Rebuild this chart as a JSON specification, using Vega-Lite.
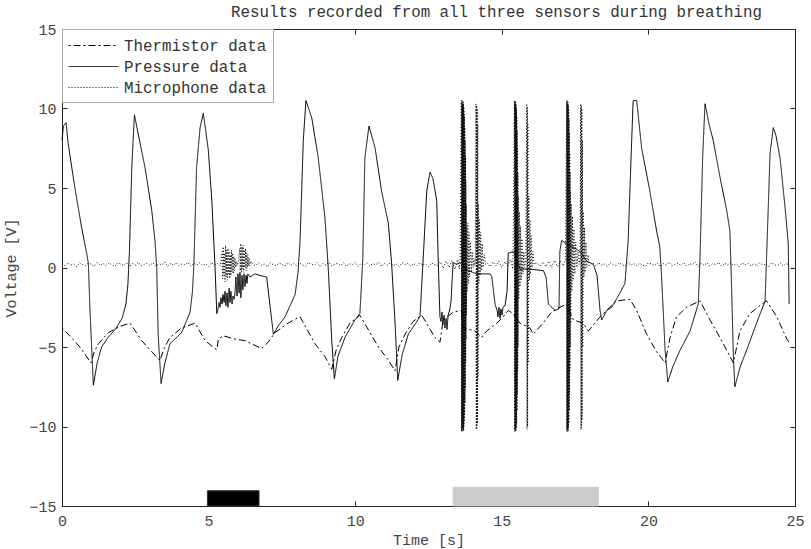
{
"$schema":"https://vega.github.io/schema/vega-lite/v6.json",
"width":733,"height":477,
"autosize":{"type":"none"},
"padding":{"left":62,"top":29,"right":16,"bottom":43},
"config":{"view":{"stroke":"#222","strokeWidth":1},"font":"Liberation Mono","axis":{"grid":false,"labelFlush":false}},
"title":{"text":"Results recorded from all three sensors during breathing","font":"Liberation Mono","fontSize":15.8,"fontWeight":"normal","color":"#333","anchor":"middle","dx":68,"offset":1},
"resolve":{"axis":{"x":"independent","y":"independent"}},
"layer":[
{"data":{"values":[
{"period":"A","t0":4.96,"t1":6.72,"v0":-15,"v1":-14.04},
{"period":"B","t0":13.34,"t1":18.29,"v0":-15,"v1":-13.82}
]},
"mark":{"type":"rect","strokeWidth":1},
"encoding":{
"x":{"field":"t0","type":"quantitative","scale":{"domain":[0,25],"nice":false},"axis":{"orient":"top","values":[0,5,10,15,20,25],"labels":false,"title":null,"domain":false,"grid":false,"tickSize":-5,"tickColor":"#222"}},
"x2":{"field":"t1"},
"y":{"field":"v0","type":"quantitative","scale":{"domain":[-15,15],"nice":false},"axis":{"orient":"right","values":[-15,-10,-5,0,5,10,15],"labels":false,"title":null,"domain":false,"grid":false,"tickSize":-5,"tickColor":"#222"}},
"y2":{"field":"v1"},
"fill":{"field":"period","type":"nominal","scale":{"domain":["A","B"],"range":["#000000","#cccccc"]},"legend":null},
"stroke":{"field":"period","type":"nominal","scale":{"domain":["A","B"],"range":["#333333","#cccccc"]},"legend":null}
}},
{"data":{"values":[
{"s":"T","t":0,"v":-3.8},{"s":"T","t":0.27,"v":-4.3},{"s":"T","t":0.61,"v":-5.0},{"s":"T","t":0.99,"v":-6.0},{"s":"T","t":1.1,"v":-5.3},{"s":"T","t":1.24,"v":-4.8},{"s":"T","t":1.58,"v":-4.1},{"s":"T","t":1.98,"v":-3.7},{"s":"T","t":2.32,"v":-3.5},{"s":"T","t":2.72,"v":-4.6},{"s":"T","t":3.06,"v":-5.3},{"s":"T","t":3.34,"v":-5.85},{"s":"T","t":3.48,"v":-5.1},{"s":"T","t":3.68,"v":-4.4},{"s":"T","t":4.08,"v":-3.8},{"s":"T","t":4.54,"v":-3.5},{"s":"T","t":4.88,"v":-4.6},{"s":"T","t":5.22,"v":-5.1},{"s":"T","t":5.29,"v":-5.15},{"s":"T","t":5.33,"v":-4.5},{"s":"T","t":5.5,"v":-4.3},{"s":"T","t":5.9,"v":-4.5},{"s":"T","t":6.24,"v":-4.6},{"s":"T","t":6.81,"v":-5.1},{"s":"T","t":7.03,"v":-4.7},{"s":"T","t":7.26,"v":-4.1},{"s":"T","t":7.71,"v":-3.5},{"s":"T","t":8.12,"v":-3.1},{"s":"T","t":8.63,"v":-4.8},{"s":"T","t":8.97,"v":-5.6},{"s":"T","t":9.2,"v":-6.4},{"s":"T","t":9.35,"v":-5.2},{"s":"T","t":9.54,"v":-4.4},{"s":"T","t":9.82,"v":-3.5},{"s":"T","t":10.16,"v":-3.0},{"s":"T","t":10.79,"v":-5.0},{"s":"T","t":11.12,"v":-5.8},{"s":"T","t":11.36,"v":-6.5},{"s":"T","t":11.49,"v":-5.0},{"s":"T","t":11.7,"v":-4.2},{"s":"T","t":11.97,"v":-3.4},{"s":"T","t":12.27,"v":-3.0},{"s":"T","t":12.72,"v":-4.4},{"s":"T","t":12.89,"v":-4.7},{"s":"T","t":13.0,"v":-3.3},{"s":"T","t":13.35,"v":-2.8},{"s":"T","t":13.63,"v":-2.7},{"s":"T","t":13.69,"v":-3.8},{"s":"T","t":14.09,"v":-4.0},{"s":"T","t":14.31,"v":-4.4},{"s":"T","t":14.48,"v":-4.0},{"s":"T","t":14.83,"v":-3.5},{"s":"T","t":15.05,"v":-3.1},{"s":"T","t":15.22,"v":-2.7},{"s":"T","t":15.38,"v":-2.9},{"s":"T","t":15.62,"v":-3.5},{"s":"T","t":15.96,"v":-3.8},{"s":"T","t":16.07,"v":-4.2},{"s":"T","t":16.36,"v":-3.6},{"s":"T","t":16.7,"v":-2.8},{"s":"T","t":16.98,"v":-2.5},{"s":"T","t":17.21,"v":-2.3},{"s":"T","t":17.44,"v":-3.3},{"s":"T","t":17.78,"v":-3.5},{"s":"T","t":17.95,"v":-4.0},{"s":"T","t":18.35,"v":-3.1},{"s":"T","t":18.92,"v":-2.1},{"s":"T","t":19.37,"v":-2.0},{"s":"T","t":19.6,"v":-2.7},{"s":"T","t":19.94,"v":-4.2},{"s":"T","t":20.28,"v":-5.3},{"s":"T","t":20.57,"v":-6.0},{"s":"T","t":20.74,"v":-4.4},{"s":"T","t":20.96,"v":-3.1},{"s":"T","t":21.3,"v":-2.5},{"s":"T","t":21.76,"v":-2.1},{"s":"T","t":22.1,"v":-3.3},{"s":"T","t":22.44,"v":-4.4},{"s":"T","t":22.9,"v":-6.0},{"s":"T","t":23.12,"v":-4.0},{"s":"T","t":23.46,"v":-2.9},{"s":"T","t":23.8,"v":-2.4},{"s":"T","t":24.03,"v":-2.1},{"s":"T","t":24.38,"v":-3.1},{"s":"T","t":24.72,"v":-4.5},{"s":"T","t":24.83,"v":-4.8},
{"s":"P","t":0,"v":8.0},{"s":"P","t":0.05,"v":8.9},{"s":"P","t":0.14,"v":9.1},{"s":"P","t":0.21,"v":7.8},{"s":"P","t":0.44,"v":5.0},{"s":"P","t":0.67,"v":2.5},{"s":"P","t":0.84,"v":0.9},{"s":"P","t":0.9,"v":0.25},{"s":"P","t":0.95,"v":-2.5},{"s":"P","t":1.07,"v":-7.4},{"s":"P","t":1.2,"v":-6.0},{"s":"P","t":1.35,"v":-5.0},{"s":"P","t":1.57,"v":-4.4},{"s":"P","t":1.81,"v":-3.9},{"s":"P","t":2.05,"v":-3.2},{"s":"P","t":2.18,"v":-2.3},{"s":"P","t":2.25,"v":-1.0},{"s":"P","t":2.3,"v":1.0},{"s":"P","t":2.38,"v":6.3},{"s":"P","t":2.47,"v":9.6},{"s":"P","t":2.6,"v":8.4},{"s":"P","t":2.83,"v":6.3},{"s":"P","t":3.06,"v":3.6},{"s":"P","t":3.17,"v":1.7},{"s":"P","t":3.23,"v":0},{"s":"P","t":3.28,"v":-4.2},{"s":"P","t":3.38,"v":-7.3},{"s":"P","t":3.51,"v":-6.0},{"s":"P","t":3.68,"v":-4.8},{"s":"P","t":4.08,"v":-4.1},{"s":"P","t":4.37,"v":-2.8},{"s":"P","t":4.45,"v":-1.5},{"s":"P","t":4.5,"v":0.3},{"s":"P","t":4.59,"v":6.3},{"s":"P","t":4.71,"v":8.8},{"s":"P","t":4.82,"v":9.7},{"s":"P","t":4.99,"v":7.4},{"s":"P","t":5.11,"v":4.2},{"s":"P","t":5.22,"v":0},{"s":"P","t":5.28,"v":-2.9},
{"s":"P","t":5.32,"v":-2.6},{"s":"P","t":5.36,"v":-2.2},{"s":"P","t":5.39,"v":-2.5},{"s":"P","t":5.42,"v":-1.9},{"s":"P","t":5.46,"v":-2.3},{"s":"P","t":5.49,"v":-1.7},{"s":"P","t":5.53,"v":-2.2},{"s":"P","t":5.56,"v":-1.5},{"s":"P","t":5.59,"v":-2.4},{"s":"P","t":5.63,"v":-1.6},{"s":"P","t":5.66,"v":-2.5},{"s":"P","t":5.7,"v":-1.3},{"s":"P","t":5.73,"v":-2.2},{"s":"P","t":5.76,"v":-1.5},{"s":"P","t":5.8,"v":-2.3},{"s":"P","t":5.83,"v":-1.8},{"s":"P","t":5.87,"v":-2.0},{"s":"P","t":5.9,"v":-1.6},{"s":"P","t":5.93,"v":-0.6},{"s":"P","t":5.97,"v":-1.8},{"s":"P","t":6.0,"v":-0.4},{"s":"P","t":6.04,"v":-1.6},{"s":"P","t":6.07,"v":-0.3},{"s":"P","t":6.1,"v":-1.9},{"s":"P","t":6.14,"v":-0.5},{"s":"P","t":6.17,"v":-1.4},{"s":"P","t":6.21,"v":-0.4},{"s":"P","t":6.24,"v":-1.2},{"s":"P","t":6.28,"v":-0.5},{"s":"P","t":6.31,"v":-1.0},{"s":"P","t":6.34,"v":-0.4},{"s":"P","t":6.41,"v":-0.6},{"s":"P","t":6.58,"v":-0.4},{"s":"P","t":6.75,"v":-0.5},{"s":"P","t":6.98,"v":-0.6},{"s":"P","t":7.03,"v":-1.4},{"s":"P","t":7.21,"v":-4.2},
{"s":"P","t":7.4,"v":-3.6},{"s":"P","t":7.61,"v":-3.1},{"s":"P","t":7.95,"v":-1.7},{"s":"P","t":8.05,"v":-0.3},{"s":"P","t":8.12,"v":1.7},{"s":"P","t":8.23,"v":8.0},{"s":"P","t":8.32,"v":10.5},{"s":"P","t":8.52,"v":9.4},{"s":"P","t":8.74,"v":6.9},{"s":"P","t":8.97,"v":3.1},{"s":"P","t":9.08,"v":0},{"s":"P","t":9.2,"v":-4.6},{"s":"P","t":9.29,"v":-7.0},{"s":"P","t":9.41,"v":-5.6},{"s":"P","t":9.65,"v":-4.4},{"s":"P","t":9.99,"v":-3.3},{"s":"P","t":10.16,"v":-2.9},{"s":"P","t":10.26,"v":0.6},{"s":"P","t":10.33,"v":6.9},{"s":"P","t":10.47,"v":8.9},{"s":"P","t":10.68,"v":7.5},{"s":"P","t":10.9,"v":4.8},{"s":"P","t":11.13,"v":2.8},{"s":"P","t":11.24,"v":0.3},{"s":"P","t":11.36,"v":-3.5},{"s":"P","t":11.45,"v":-7.1},{"s":"P","t":11.6,"v":-5.5},{"s":"P","t":11.81,"v":-4.2},{"s":"P","t":12.21,"v":-3.1},{"s":"P","t":12.32,"v":0.6},{"s":"P","t":12.44,"v":4.8},{"s":"P","t":12.55,"v":6.0},{"s":"P","t":12.65,"v":5.6},{"s":"P","t":12.78,"v":4.2},{"s":"P","t":12.83,"v":0.6},{"s":"P","t":12.89,"v":-3.1},
{"s":"P","t":12.93,"v":-3.4},{"s":"P","t":12.96,"v":-2.8},{"s":"P","t":12.99,"v":-3.6},{"s":"P","t":13.03,"v":-3.0},{"s":"P","t":13.06,"v":-3.8},{"s":"P","t":13.1,"v":-3.2},{"s":"P","t":13.13,"v":-3.9},{"s":"P","t":13.17,"v":-3.0},{"s":"P","t":13.23,"v":-2.6},{"s":"P","t":13.27,"v":-2.1},{"s":"P","t":13.3,"v":-1.0},{"s":"P","t":13.34,"v":0.3},{"s":"P","t":13.46,"v":0.2},{"s":"P","t":13.57,"v":0.3},{"s":"P","t":13.86,"v":-0.2},{"s":"P","t":14.14,"v":-0.4},{"s":"P","t":14.6,"v":-0.4},{"s":"P","t":14.66,"v":-0.6},{"s":"P","t":14.77,"v":-2.3},{"s":"P","t":14.84,"v":-2.7},{"s":"P","t":14.87,"v":-3.1},{"s":"P","t":14.9,"v":-2.5},{"s":"P","t":14.94,"v":-3.2},{"s":"P","t":14.97,"v":-2.6},{"s":"P","t":15.01,"v":-3.0},{"s":"P","t":15.04,"v":-2.5},{"s":"P","t":15.11,"v":-2.4},{"s":"P","t":15.18,"v":-1.5},{"s":"P","t":15.22,"v":0.9},{"s":"P","t":15.39,"v":1.0},{"s":"P","t":15.45,"v":0.8},{"s":"P","t":15.62,"v":-0.1},{"s":"P","t":15.96,"v":-0.1},{"s":"P","t":16.42,"v":-0.2},{"s":"P","t":16.51,"v":-0.6},{"s":"P","t":16.59,"v":-2.3},{"s":"P","t":16.7,"v":-2.5},{"s":"P","t":16.82,"v":-2.7},{"s":"P","t":16.95,"v":-2.6},{"s":"P","t":16.98,"v":1.0},{"s":"P","t":17.04,"v":1.7},{"s":"P","t":17.21,"v":1.5},{"s":"P","t":17.5,"v":1.2},{"s":"P","t":17.67,"v":1.0},{"s":"P","t":17.9,"v":0.4},{"s":"P","t":18.12,"v":0.2},{"s":"P","t":18.25,"v":-0.5},{"s":"P","t":18.35,"v":-2.7},{"s":"P","t":18.41,"v":-3.3},{"s":"P","t":18.58,"v":-2.7},{"s":"P","t":18.75,"v":-2.5},{"s":"P","t":19.03,"v":-1.6},{"s":"P","t":19.2,"v":-1.0},{"s":"P","t":19.31,"v":1.7},{"s":"P","t":19.43,"v":8.0},{"s":"P","t":19.48,"v":10.5},{"s":"P","t":19.6,"v":10.5},{"s":"P","t":19.77,"v":7.5},{"s":"P","t":20.05,"v":4.8},{"s":"P","t":20.28,"v":2.3},{"s":"P","t":20.39,"v":1.3},{"s":"P","t":20.45,"v":-0.6},{"s":"P","t":20.57,"v":-5.2},{"s":"P","t":20.66,"v":-7.2},{"s":"P","t":20.84,"v":-6.2},{"s":"P","t":21.08,"v":-5.2},{"s":"P","t":21.42,"v":-4.0},{"s":"P","t":21.7,"v":-2.3},{"s":"P","t":21.76,"v":0.6},{"s":"P","t":21.85,"v":6.9},{"s":"P","t":21.93,"v":10.3},{"s":"P","t":22.07,"v":9.0},{"s":"P","t":22.21,"v":8.0},{"s":"P","t":22.44,"v":5.7},{"s":"P","t":22.67,"v":3.6},{"s":"P","t":22.78,"v":2.3},{"s":"P","t":22.84,"v":-1.4},{"s":"P","t":22.9,"v":-5.7},{"s":"P","t":22.95,"v":-7.5},{"s":"P","t":23.12,"v":-6.3},{"s":"P","t":23.35,"v":-5.2},{"s":"P","t":23.69,"v":-3.5},{"s":"P","t":23.98,"v":-2.1},{"s":"P","t":24.03,"v":0.6},{"s":"P","t":24.15,"v":7.2},{"s":"P","t":24.26,"v":8.8},{"s":"P","t":24.35,"v":8.3},{"s":"P","t":24.49,"v":6.9},{"s":"P","t":24.66,"v":3.8},{"s":"P","t":24.77,"v":1.5},{"s":"P","t":24.8,"v":-2.3},
{"s":"M","t":0.0,"v":0.25},{"s":"M","t":0.1,"v":0.1},{"s":"M","t":0.2,"v":0.3},{"s":"M","t":0.3,"v":0.15},{"s":"M","t":0.4,"v":0.22},{"s":"M","t":0.5,"v":0.05},{"s":"M","t":0.6,"v":0.3},{"s":"M","t":0.7,"v":0.18},{"s":"M","t":0.8,"v":0.12},{"s":"M","t":0.9,"v":0.28},
{"s":"M","t":1.0,"v":0.2},{"s":"M","t":1.1,"v":0.08},{"s":"M","t":1.2,"v":0.32},{"s":"M","t":1.3,"v":0.14},{"s":"M","t":1.4,"v":0.26},{"s":"M","t":1.5,"v":0.1},{"s":"M","t":1.6,"v":0.28},{"s":"M","t":1.7,"v":0.16},{"s":"M","t":1.8,"v":0.06},{"s":"M","t":1.9,"v":0.3},
{"s":"M","t":2.0,"v":0.22},{"s":"M","t":2.1,"v":0.12},{"s":"M","t":2.2,"v":0.3},{"s":"M","t":2.3,"v":0.05},{"s":"M","t":2.4,"v":0.25},{"s":"M","t":2.5,"v":0.15},{"s":"M","t":2.6,"v":0.33},{"s":"M","t":2.7,"v":0.1},{"s":"M","t":2.8,"v":0.2},{"s":"M","t":2.9,"v":0.27},
{"s":"M","t":3.0,"v":0.12},{"s":"M","t":3.1,"v":0.3},{"s":"M","t":3.2,"v":0.08},{"s":"M","t":3.3,"v":0.24},{"s":"M","t":3.4,"v":0.17},{"s":"M","t":3.5,"v":0.35},{"s":"M","t":3.6,"v":0.06},{"s":"M","t":3.7,"v":0.26},{"s":"M","t":3.8,"v":0.14},{"s":"M","t":3.9,"v":0.3},
{"s":"M","t":4.0,"v":0.1},{"s":"M","t":4.1,"v":0.24},{"s":"M","t":4.2,"v":0.18},{"s":"M","t":4.3,"v":0.32},{"s":"M","t":4.4,"v":0.07},{"s":"M","t":4.5,"v":0.27},{"s":"M","t":4.6,"v":0.15},{"s":"M","t":4.7,"v":0.3},{"s":"M","t":4.8,"v":0.12},{"s":"M","t":4.9,"v":0.22},
{"s":"M","t":5.0,"v":0.05},{"s":"M","t":5.1,"v":0.3},{"s":"M","t":5.2,"v":0.16},{"s":"M","t":5.3,"v":0.26},{"s":"M","t":5.4,"v":0.1},
{"s":"M","t":5.46,"v":1.0},{"s":"M","t":5.48,"v":-0.7},{"s":"M","t":5.5,"v":1.3},{"s":"M","t":5.52,"v":-0.5},{"s":"M","t":5.54,"v":0.9},{"s":"M","t":5.56,"v":-0.9},{"s":"M","t":5.58,"v":1.4},{"s":"M","t":5.6,"v":-0.6},{"s":"M","t":5.62,"v":1.1},{"s":"M","t":5.64,"v":-0.8},{"s":"M","t":5.66,"v":1.2},{"s":"M","t":5.68,"v":-0.4},{"s":"M","t":5.7,"v":1.0},{"s":"M","t":5.72,"v":-0.7},{"s":"M","t":5.74,"v":0.8},{"s":"M","t":5.76,"v":-0.5},{"s":"M","t":5.78,"v":1.1},{"s":"M","t":5.8,"v":-0.3},{"s":"M","t":5.82,"v":0.9},{"s":"M","t":5.84,"v":-0.4},{"s":"M","t":5.86,"v":0.7},{"s":"M","t":5.88,"v":-0.2},{"s":"M","t":5.9,"v":0.6},{"s":"M","t":5.92,"v":0.0},{"s":"M","t":5.94,"v":0.4},{"s":"M","t":5.96,"v":0.1},{"s":"M","t":5.98,"v":0.3},{"s":"M","t":6.0,"v":0.2},
{"s":"M","t":6.06,"v":1.2},{"s":"M","t":6.08,"v":-0.2},{"s":"M","t":6.1,"v":1.5},{"s":"M","t":6.12,"v":-0.3},{"s":"M","t":6.14,"v":1.3},{"s":"M","t":6.16,"v":-0.1},{"s":"M","t":6.18,"v":1.4},{"s":"M","t":6.2,"v":-0.3},{"s":"M","t":6.22,"v":1.1},{"s":"M","t":6.24,"v":0.0},{"s":"M","t":6.26,"v":1.2},{"s":"M","t":6.28,"v":-0.2},{"s":"M","t":6.3,"v":0.9},{"s":"M","t":6.32,"v":0.0},{"s":"M","t":6.34,"v":0.8},{"s":"M","t":6.36,"v":0.1},{"s":"M","t":6.38,"v":0.6},{"s":"M","t":6.4,"v":0.1},{"s":"M","t":6.44,"v":0.4},{"s":"M","t":6.48,"v":0.2},
{"s":"M","t":6.5,"v":0.25},{"s":"M","t":6.6,"v":0.1},{"s":"M","t":6.7,"v":0.3},{"s":"M","t":6.8,"v":0.15},{"s":"M","t":6.9,"v":0.22},{"s":"M","t":7.0,"v":0.05},{"s":"M","t":7.1,"v":0.3},{"s":"M","t":7.2,"v":0.18},{"s":"M","t":7.3,"v":0.12},{"s":"M","t":7.4,"v":0.28},
{"s":"M","t":7.5,"v":0.2},{"s":"M","t":7.6,"v":0.08},{"s":"M","t":7.7,"v":0.32},{"s":"M","t":7.8,"v":0.14},{"s":"M","t":7.9,"v":0.26},{"s":"M","t":8.0,"v":0.1},{"s":"M","t":8.1,"v":0.28},{"s":"M","t":8.2,"v":0.16},{"s":"M","t":8.3,"v":0.06},{"s":"M","t":8.4,"v":0.3},
{"s":"M","t":8.5,"v":0.22},{"s":"M","t":8.6,"v":0.12},{"s":"M","t":8.7,"v":0.3},{"s":"M","t":8.8,"v":0.05},{"s":"M","t":8.9,"v":0.25},{"s":"M","t":9.0,"v":0.15},{"s":"M","t":9.1,"v":0.33},{"s":"M","t":9.2,"v":0.1},{"s":"M","t":9.3,"v":0.2},{"s":"M","t":9.4,"v":0.27},
{"s":"M","t":9.5,"v":0.12},{"s":"M","t":9.6,"v":0.3},{"s":"M","t":9.7,"v":0.08},{"s":"M","t":9.8,"v":0.24},{"s":"M","t":9.9,"v":0.17},{"s":"M","t":10.0,"v":0.35},{"s":"M","t":10.1,"v":0.06},{"s":"M","t":10.2,"v":0.26},{"s":"M","t":10.3,"v":0.14},{"s":"M","t":10.4,"v":0.3},
{"s":"M","t":10.5,"v":0.1},{"s":"M","t":10.6,"v":0.24},{"s":"M","t":10.7,"v":0.18},{"s":"M","t":10.8,"v":0.32},{"s":"M","t":10.9,"v":0.07},{"s":"M","t":11.0,"v":0.27},{"s":"M","t":11.1,"v":0.15},{"s":"M","t":11.2,"v":0.3},{"s":"M","t":11.3,"v":0.12},{"s":"M","t":11.4,"v":0.22},
{"s":"M","t":11.5,"v":0.05},{"s":"M","t":11.6,"v":0.3},{"s":"M","t":11.7,"v":0.16},{"s":"M","t":11.8,"v":0.26},{"s":"M","t":11.9,"v":0.1},{"s":"M","t":12.0,"v":0.25},{"s":"M","t":12.1,"v":0.1},{"s":"M","t":12.2,"v":0.3},{"s":"M","t":12.3,"v":0.15},{"s":"M","t":12.4,"v":0.22},
{"s":"M","t":12.5,"v":0.05},{"s":"M","t":12.6,"v":0.3},{"s":"M","t":12.7,"v":0.18},{"s":"M","t":12.8,"v":0.12},{"s":"M","t":12.9,"v":0.35},{"s":"M","t":13.0,"v":-0.05},{"s":"M","t":13.1,"v":0.4},{"s":"M","t":13.2,"v":0.0},{"s":"M","t":13.3,"v":0.45},{"s":"M","t":13.4,"v":-0.1},{"s":"M","t":13.5,"v":0.5},
{"s":"M","t":13.55,"v":-0.1},{"s":"M","t":13.58,"v":0.6},
{"s":"M","t":13.62,"v":10.5},{"s":"M","t":13.626,"v":-10.3},{"s":"M","t":13.632,"v":10.4},{"s":"M","t":13.638,"v":-10.2},{"s":"M","t":13.644,"v":10.5},{"s":"M","t":13.65,"v":-10.3},{"s":"M","t":13.656,"v":10.3},{"s":"M","t":13.662,"v":-10.1},{"s":"M","t":13.668,"v":10.5},{"s":"M","t":13.674,"v":-10.3},{"s":"M","t":13.68,"v":10.2},{"s":"M","t":13.686,"v":-10.2},{"s":"M","t":13.692,"v":10.4},{"s":"M","t":13.698,"v":-10.3},{"s":"M","t":13.704,"v":10.1},{"s":"M","t":13.71,"v":-10.0},{"s":"M","t":13.716,"v":9.8},{"s":"M","t":13.722,"v":-9.6},{"s":"M","t":13.728,"v":9.5},{"s":"M","t":13.734,"v":-9.2},{"s":"M","t":13.74,"v":8.8},{"s":"M","t":13.746,"v":-8.5},{"s":"M","t":13.752,"v":8.0},{"s":"M","t":13.758,"v":-7.6},{"s":"M","t":13.764,"v":7.0},{"s":"M","t":13.77,"v":-6.0},{"s":"M","t":13.776,"v":5.5},{"s":"M","t":13.782,"v":-4.5},{"s":"M","t":13.788,"v":4.0},{"s":"M","t":13.794,"v":-3.0},{"s":"M","t":13.8,"v":2.5},
{"s":"M","t":13.82,"v":-1.5},{"s":"M","t":13.84,"v":2.8},{"s":"M","t":13.86,"v":-1.0},{"s":"M","t":13.88,"v":2.2},{"s":"M","t":13.9,"v":-0.6},{"s":"M","t":13.93,"v":1.6},{"s":"M","t":13.96,"v":-0.3},{"s":"M","t":13.99,"v":1.0},{"s":"M","t":14.02,"v":0.0},{"s":"M","t":14.05,"v":0.6},{"s":"M","t":14.08,"v":0.1},{"s":"M","t":14.1,"v":0.4},
{"s":"M","t":14.12,"v":10.3},{"s":"M","t":14.13,"v":-10.2},{"s":"M","t":14.14,"v":10.2},{"s":"M","t":14.15,"v":-10.1},{"s":"M","t":14.16,"v":10.0},{"s":"M","t":14.17,"v":-9.8},{"s":"M","t":14.18,"v":9.0},{"s":"M","t":14.19,"v":-7.0},{"s":"M","t":14.2,"v":4.0},
{"s":"M","t":14.22,"v":-1.0},{"s":"M","t":14.24,"v":3.0},{"s":"M","t":14.26,"v":-0.5},{"s":"M","t":14.28,"v":2.2},{"s":"M","t":14.3,"v":-0.2},{"s":"M","t":14.33,"v":1.5},{"s":"M","t":14.36,"v":0.0},{"s":"M","t":14.4,"v":0.8},{"s":"M","t":14.45,"v":0.2},
{"s":"M","t":14.5,"v":0.3},{"s":"M","t":14.6,"v":0.05},{"s":"M","t":14.7,"v":0.35},{"s":"M","t":14.8,"v":0.1},{"s":"M","t":14.9,"v":0.4},{"s":"M","t":15.0,"v":0.0},{"s":"M","t":15.1,"v":0.35},{"s":"M","t":15.2,"v":0.1},{"s":"M","t":15.3,"v":0.5},{"s":"M","t":15.38,"v":-0.1},
{"s":"M","t":15.43,"v":10.5},{"s":"M","t":15.436,"v":-10.3},{"s":"M","t":15.442,"v":10.4},{"s":"M","t":15.448,"v":-10.2},{"s":"M","t":15.454,"v":10.5},{"s":"M","t":15.46,"v":-10.3},{"s":"M","t":15.466,"v":10.3},{"s":"M","t":15.472,"v":-10.2},{"s":"M","t":15.478,"v":10.4},{"s":"M","t":15.484,"v":-10.3},{"s":"M","t":15.49,"v":10.2},{"s":"M","t":15.496,"v":-10.1},{"s":"M","t":15.502,"v":10.0},{"s":"M","t":15.508,"v":-9.8},{"s":"M","t":15.514,"v":9.5},{"s":"M","t":15.52,"v":-9.0},{"s":"M","t":15.526,"v":8.6},{"s":"M","t":15.532,"v":-8.0},{"s":"M","t":15.538,"v":7.5},{"s":"M","t":15.544,"v":-6.5},{"s":"M","t":15.55,"v":6.0},{"s":"M","t":15.556,"v":-5.0},{"s":"M","t":15.562,"v":4.5},
{"s":"M","t":15.58,"v":-2.0},{"s":"M","t":15.6,"v":3.5},{"s":"M","t":15.62,"v":-1.2},{"s":"M","t":15.64,"v":2.6},{"s":"M","t":15.66,"v":-0.8},{"s":"M","t":15.69,"v":1.8},{"s":"M","t":15.72,"v":-0.4},{"s":"M","t":15.75,"v":1.0},{"s":"M","t":15.78,"v":0.0},{"s":"M","t":15.82,"v":0.5},
{"s":"M","t":15.85,"v":10.3},{"s":"M","t":15.86,"v":-10.2},{"s":"M","t":15.87,"v":10.1},{"s":"M","t":15.88,"v":-10.0},{"s":"M","t":15.89,"v":9.0},{"s":"M","t":15.9,"v":-6.0},
{"s":"M","t":15.92,"v":4.5},{"s":"M","t":15.94,"v":-0.8},{"s":"M","t":15.96,"v":3.0},{"s":"M","t":15.98,"v":-0.4},{"s":"M","t":16.0,"v":2.0},{"s":"M","t":16.03,"v":0.0},{"s":"M","t":16.06,"v":1.0},{"s":"M","t":16.1,"v":0.2},
{"s":"M","t":16.2,"v":0.3},{"s":"M","t":16.3,"v":0.1},{"s":"M","t":16.4,"v":0.35},{"s":"M","t":16.5,"v":0.05},{"s":"M","t":16.6,"v":0.4},{"s":"M","t":16.7,"v":0.0},{"s":"M","t":16.8,"v":0.45},{"s":"M","t":16.9,"v":0.05},{"s":"M","t":17.0,"v":0.4},{"s":"M","t":17.1,"v":0.1},{"s":"M","t":17.17,"v":0.5},
{"s":"M","t":17.21,"v":10.5},{"s":"M","t":17.216,"v":-10.3},{"s":"M","t":17.222,"v":10.4},{"s":"M","t":17.228,"v":-10.2},{"s":"M","t":17.234,"v":10.5},{"s":"M","t":17.24,"v":-10.3},{"s":"M","t":17.246,"v":10.3},{"s":"M","t":17.252,"v":-10.2},{"s":"M","t":17.258,"v":10.4},{"s":"M","t":17.264,"v":-10.3},{"s":"M","t":17.27,"v":10.2},{"s":"M","t":17.276,"v":-10.1},{"s":"M","t":17.282,"v":10.0},{"s":"M","t":17.288,"v":-9.8},{"s":"M","t":17.294,"v":9.4},{"s":"M","t":17.3,"v":-9.0},{"s":"M","t":17.306,"v":8.5},{"s":"M","t":17.312,"v":-8.0},{"s":"M","t":17.318,"v":7.2},{"s":"M","t":17.324,"v":-6.5},{"s":"M","t":17.33,"v":6.0},{"s":"M","t":17.336,"v":-5.0},{"s":"M","t":17.342,"v":4.8},{"s":"M","t":17.35,"v":-3.5},
{"s":"M","t":17.37,"v":4.0},{"s":"M","t":17.39,"v":-1.5},{"s":"M","t":17.41,"v":3.2},{"s":"M","t":17.43,"v":-0.8},{"s":"M","t":17.46,"v":2.4},{"s":"M","t":17.49,"v":-0.4},{"s":"M","t":17.52,"v":1.6},{"s":"M","t":17.56,"v":0.0},{"s":"M","t":17.6,"v":1.0},{"s":"M","t":17.64,"v":0.2},{"s":"M","t":17.67,"v":0.6},
{"s":"M","t":17.69,"v":10.3},{"s":"M","t":17.7,"v":-10.2},{"s":"M","t":17.71,"v":10.2},{"s":"M","t":17.72,"v":-10.1},{"s":"M","t":17.73,"v":10.0},{"s":"M","t":17.74,"v":-9.6},{"s":"M","t":17.75,"v":8.0},{"s":"M","t":17.76,"v":-5.0},
{"s":"M","t":17.78,"v":3.5},{"s":"M","t":17.8,"v":-0.6},{"s":"M","t":17.82,"v":2.5},{"s":"M","t":17.84,"v":-0.3},{"s":"M","t":17.87,"v":1.6},{"s":"M","t":17.9,"v":0.0},{"s":"M","t":17.94,"v":0.8},{"s":"M","t":17.98,"v":0.1},
{"s":"M","t":18.1,"v":0.3},{"s":"M","t":18.2,"v":0.1},{"s":"M","t":18.3,"v":0.3},{"s":"M","t":18.4,"v":0.15},{"s":"M","t":18.5,"v":0.22},{"s":"M","t":18.6,"v":0.05},{"s":"M","t":18.7,"v":0.3},{"s":"M","t":18.8,"v":0.18},{"s":"M","t":18.9,"v":0.12},{"s":"M","t":19.0,"v":0.28},
{"s":"M","t":19.1,"v":0.2},{"s":"M","t":19.2,"v":0.08},{"s":"M","t":19.3,"v":0.32},{"s":"M","t":19.4,"v":0.14},{"s":"M","t":19.5,"v":0.26},{"s":"M","t":19.6,"v":0.1},{"s":"M","t":19.7,"v":0.28},{"s":"M","t":19.8,"v":0.16},{"s":"M","t":19.9,"v":0.06},{"s":"M","t":20.0,"v":0.3},
{"s":"M","t":20.1,"v":0.22},{"s":"M","t":20.2,"v":0.12},{"s":"M","t":20.3,"v":0.3},{"s":"M","t":20.4,"v":0.05},{"s":"M","t":20.5,"v":0.25},{"s":"M","t":20.6,"v":0.15},{"s":"M","t":20.7,"v":0.33},{"s":"M","t":20.8,"v":0.1},{"s":"M","t":20.9,"v":0.2},{"s":"M","t":21.0,"v":0.27},
{"s":"M","t":21.1,"v":0.12},{"s":"M","t":21.2,"v":0.3},{"s":"M","t":21.3,"v":0.08},{"s":"M","t":21.4,"v":0.24},{"s":"M","t":21.5,"v":0.17},{"s":"M","t":21.6,"v":0.35},{"s":"M","t":21.7,"v":0.06},{"s":"M","t":21.8,"v":0.26},{"s":"M","t":21.9,"v":0.14},{"s":"M","t":22.0,"v":0.3},
{"s":"M","t":22.1,"v":0.1},{"s":"M","t":22.2,"v":0.24},{"s":"M","t":22.3,"v":0.18},{"s":"M","t":22.4,"v":0.32},{"s":"M","t":22.5,"v":0.07},{"s":"M","t":22.6,"v":0.27},{"s":"M","t":22.7,"v":0.15},{"s":"M","t":22.8,"v":0.3},{"s":"M","t":22.9,"v":0.12},{"s":"M","t":23.0,"v":0.22},
{"s":"M","t":23.1,"v":0.05},{"s":"M","t":23.2,"v":0.3},{"s":"M","t":23.3,"v":0.16},{"s":"M","t":23.4,"v":0.26},{"s":"M","t":23.5,"v":0.1},{"s":"M","t":23.6,"v":0.25},{"s":"M","t":23.7,"v":0.1},{"s":"M","t":23.8,"v":0.3},{"s":"M","t":23.9,"v":0.15},{"s":"M","t":24.0,"v":0.22},
{"s":"M","t":24.1,"v":0.05},{"s":"M","t":24.2,"v":0.3},{"s":"M","t":24.3,"v":0.18},{"s":"M","t":24.4,"v":0.12},{"s":"M","t":24.5,"v":0.28},{"s":"M","t":24.6,"v":0.1},{"s":"M","t":24.7,"v":0.26},{"s":"M","t":24.8,"v":0.15}
]},
"mark":{"type":"line","color":"#000000","strokeWidth":1},
"encoding":{
"x":{"field":"t","type":"quantitative","scale":{"domain":[0,25],"nice":false},"axis":{"orient":"bottom","values":[0,5,10,15,20,25],"title":"Time [s]","domain":false,"grid":false,"labelFlush":false,"tickSize":-5,"tickColor":"#222","labelPadding":12,"labelFont":"Liberation Mono","labelFontSize":15,"labelColor":"#444","titleFont":"Liberation Mono","titleFontSize":15,"titleFontWeight":"normal","titleColor":"#444","titlePadding":4}},
"y":{"field":"v","type":"quantitative","scale":{"domain":[-15,15],"nice":false},"axis":{"orient":"left","values":[-15,-10,-5,0,5,10,15],"title":"Voltage [V]","domain":false,"grid":false,"labelFlush":false,"tickSize":-5,"tickColor":"#222","labelPadding":11,"labelFont":"Liberation Mono","labelFontSize":15,"labelColor":"#444","titleFont":"Liberation Mono","titleFontSize":15,"titleFontWeight":"normal","titleColor":"#444","titlePadding":10}},
"strokeDash":{"field":"s","type":"nominal","scale":{"domain":["T","P","M"],"range":[[2,3,7,3],[1,0],[1,2]]},
"legend":{"orient":"top-left","offset":0,"title":null,"padding":6,"strokeColor":"#aaaaaa","fillColor":"#ffffff","symbolType":"M-1,0H4","symbolSize":400,"symbolStrokeWidth":1,"symbolStrokeColor":"#000000","labelFont":"Liberation Mono","labelFontSize":15.8,"labelColor":"#333","labelOffset":35,"rowPadding":2,"labelExpr":"{'T':'Thermistor data','P':'Pressure data','M':'Microphone data'}[datum.label]"}}
}}
]
}
